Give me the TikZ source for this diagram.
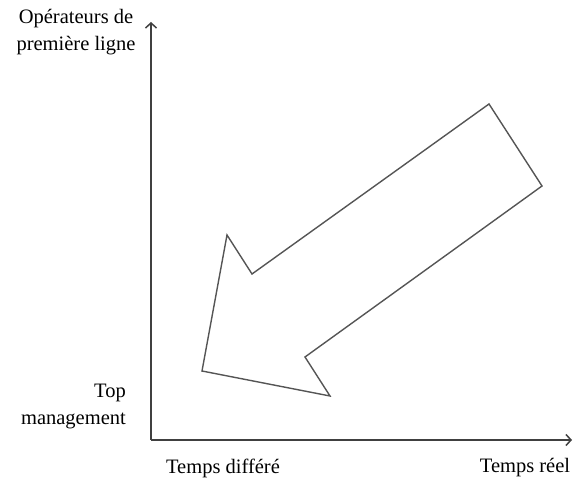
\documentclass[tikz,border=0pt]{standalone}
\usepackage{fontspec}
\setmainfont{Liberation Serif}
\usepackage{tikz}
\usetikzlibrary{arrows.meta}
\definecolor{AxLine}{HTML}{404040}
\definecolor{ArLine}{HTML}{555555}

\tikzset{
  axis/.style={AxLine,line width=1.5bp,-{Straight Barb[length=5bp,width=11bp]}},
  bigarrow/.style={ArLine,line width=1.4bp,line join=miter},
  axlabel/.style={font=\fontsize{20.5bp}{27bp}\selectfont,inner sep=0pt}
}

\begin{document}
\begin{tikzpicture}[x=1bp,y=1bp]
\path[use as bounding box] (0,0) rectangle (574,484);
\coordinate (origin) at (151,44);
\coordinate (ytop) at (151,462);
\coordinate (xend) at (572,44);
\draw[axis] (origin) -- (ytop);
\draw[axis] (origin) -- (xend);
% arrow from real time / front line to deferred time / top management
\draw[bigarrow] (489,380) -- (542,298) -- (305,127) -- (330,88) -- (202,113)
  -- (227,249) -- (252,210) -- cycle;
\node[axlabel,align=center] (front) at (76,452) {Opérateurs de\\première ligne};
\node[axlabel,align=right,anchor=east] (topmgt) at (126,77) {Top\\management};
\node[axlabel] (deferred) at (223,16) {Temps différé};
\node[axlabel] (realtime) at (525,16) {Temps réel};
\end{tikzpicture}
\end{document}
